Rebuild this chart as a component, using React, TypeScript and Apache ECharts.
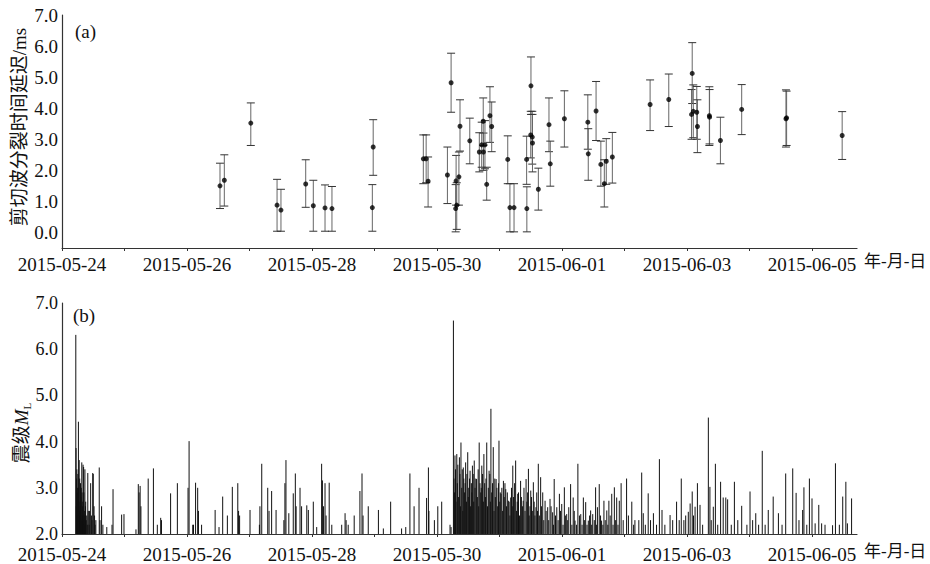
import React, { useEffect, useRef } from "react";
import * as echarts from "echarts";

// ---- Panel (a): shear-wave splitting delay (ms) ----
const splitTime: string[] = [
  "05-26 12:40", "05-26 14:20", "05-27 00:30", "05-27 10:35", "05-27 12:05", "05-27 21:35",
  "05-28 00:30", "05-28 05:00", "05-28 07:40", "05-28 23:30", "05-28 23:10",
  "05-29 18:45", "05-29 19:50", "05-29 20:35", "05-30 04:00", "05-30 05:25", "05-30 07:20",
  "05-30 07:10", "05-30 07:35", "05-30 08:25", "05-30 08:50", "05-30 12:35", "05-30 16:15",
  "05-30 17:10", "05-30 17:45", "05-30 17:50", "05-30 18:25", "05-30 19:05", "05-30 20:20",
  "05-30 21:00", "05-31 03:10", "05-31 04:00", "05-31 05:35",
  "05-31 10:25", "05-31 10:30", "05-31 12:05", "05-31 12:00", "05-31 12:35", "05-31 12:40",
  "05-31 14:55", "05-31 19:00", "05-31 19:30", "06-01 00:55", "06-01 09:55", "06-01 10:05",
  "06-01 13:05", "06-01 14:55", "06-01 16:15", "06-01 17:00", "06-01 19:20",
  "06-02 09:50", "06-02 17:00", "06-03 02:00", "06-03 01:45", "06-03 02:25", "06-03 03:45",
  "06-03 04:00", "06-03 08:35", "06-03 08:40", "06-03 12:50", "06-03 21:00", "06-04 14:00",
  "06-04 14:15", "06-05 11:35",
];
const splitDelay: number[] = [
  1.50, 1.68, 3.52, 0.88, 0.72, 1.56,
  0.86, 0.79, 0.77, 2.75, 0.80,
  2.37, 2.37, 1.65, 1.85, 4.82, 1.66,
  0.77, 0.88, 1.79, 3.42, 2.95, 2.59,
  2.82, 3.58, 2.59, 2.82, 1.55, 3.76,
  3.41, 2.35, 0.80, 0.80,
  2.35, 0.77, 4.72, 3.14, 3.07, 2.88,
  1.39, 3.47, 2.21, 3.66, 3.55, 2.53,
  3.91, 2.19, 1.57, 2.29, 2.43,
  4.12, 4.28, 5.12, 3.80, 3.90, 3.87,
  3.41, 3.76, 3.71, 2.96, 3.96, 3.66,
  3.69, 3.12,
];
const splitLow: number[] = [
  0.77, 0.85, 2.80, 0.04, 0.04, 0.81,
  0.04, 0.04, 0.04, 1.84, 0.04,
  1.57, 1.60, 0.82, 0.93, 3.87, 0.88,
  0.02, 0.10, 0.88, 2.62, 2.21, 1.95,
  2.10, 2.80, 2.00, 2.05, 1.04, 2.90,
  2.60, 1.57, 0.02, 0.02,
  1.55, 0.02, 3.80, 2.40, 2.20, 1.95,
  0.72, 2.60, 1.49, 2.75, 2.68, 1.68,
  2.96, 1.49, 0.82, 1.55, 1.59,
  3.28, 3.41, 4.15, 3.00, 3.05, 3.00,
  2.57, 2.80, 2.85, 2.21, 3.15, 2.75,
  2.80, 2.35,
];
const splitHigh: number[] = [
  2.23, 2.50, 4.17, 1.71, 1.39, 2.34,
  1.68, 1.53, 1.48, 3.63, 1.54,
  3.14, 3.14, 2.43, 2.75, 5.77, 2.48,
  1.54, 1.60, 2.59, 4.27, 3.68, 3.21,
  3.55, 4.33, 3.20, 3.60, 2.10, 4.69,
  4.20, 3.11, 1.57, 1.57,
  3.10, 1.47, 5.65, 3.90, 3.90, 3.80,
  2.07, 4.33, 2.94, 4.56, 4.43, 3.34,
  4.86, 2.94, 2.34, 3.02, 3.22,
  4.91, 5.10, 6.11, 4.60, 4.75, 4.70,
  4.27, 4.69, 4.60, 3.71, 4.76, 4.59,
  4.55, 3.89,
];

// ---- Panel (b): earthquake magnitudes [hours since 2015-05-24 00:00, ML] ----
const quakesFirstDay: [number, number][] = [
  [5.3, 6.31], [5.4, 3.86], [5.5, 2.6], [5.6, 3.2], [5.7, 3.4], [5.8, 2.9], [5.9, 2.4], [6.0, 3.0],
  [6.1, 3.3], [6.2, 2.5], [6.3, 4.43], [6.4, 3.0], [6.5, 2.7], [6.6, 3.6], [6.7, 2.4], [6.8, 3.2],
  [6.9, 2.5], [7.0, 2.6], [7.1, 3.1], [7.2, 2.4], [7.3, 2.8], [7.4, 3.0], [7.5, 2.3], [7.6, 3.55],
  [7.7, 2.9], [7.8, 2.6], [7.9, 2.4], [8.0, 2.7], [8.1, 3.5], [8.2, 2.3], [8.3, 3.45], [8.4, 2.9],
  [8.5, 2.2], [8.6, 2.4], [8.7, 2.5], [8.8, 3.4], [8.9, 2.3], [9.0, 2.6], [9.1, 2.7], [9.3, 2.3],
  [9.5, 2.4], [9.7, 2.2], [9.9, 3.32], [10.1, 2.5], [10.4, 2.2], [10.6, 2.5], [11.0, 3.1], [11.3, 2.4],
  [11.5, 2.3], [11.8, 3.32], [12.0, 3.3], [12.3, 2.6], [12.5, 2.4], [12.7, 2.2], [13.0, 2.3],
  [14.3, 3.44], [14.6, 2.3], [15.2, 2.6], [15.7, 2.2], [17.2, 2.15], [19.2, 2.2], [19.6, 2.97],
  [22.9, 2.42], [23.8, 2.43],
];
const quakesBeforeMain: [number, number][] = [
  [28.4, 2.1], [29.3, 3.08], [29.6, 2.9], [30.0, 3.04], [30.3, 2.6], [33.1, 3.2], [35.1, 3.42],
  [36.6, 2.2], [37.9, 2.35], [38.2, 2.3], [41.7, 2.88], [44.3, 3.1], [48.4, 3.0], [48.8, 4.01],
  [50.2, 2.2], [50.5, 2.2], [51.3, 3.11], [52.1, 3.0], [52.4, 2.5], [53.6, 2.2], [58.8, 2.52],
  [60.3, 2.15], [61.7, 2.81], [63.5, 2.4], [65.4, 3.02], [67.5, 3.1], [67.8, 2.5], [68.2, 2.4],
  [72.2, 2.52], [75.8, 2.2], [76.0, 2.6], [76.7, 3.52], [79.0, 3.0], [79.5, 2.5], [80.5, 2.93],
  [82.2, 2.52], [85.2, 2.3], [85.6, 3.1], [86.0, 3.6], [87.1, 2.45], [88.8, 2.88], [89.6, 3.31],
  [89.9, 2.6], [91.4, 3.0], [92.0, 2.6], [94.0, 2.62], [94.6, 2.52], [96.5, 2.7], [97.8, 2.15],
  [99.7, 3.52], [100.0, 3.16], [100.4, 2.6], [101.0, 3.1], [101.4, 2.4], [102.6, 3.11], [103.6, 2.2],
  [107.4, 2.2], [108.7, 2.45], [109.1, 2.3], [109.9, 2.2], [112.2, 2.4], [114.4, 2.93], [115.2, 3.31],
  [115.6, 2.4], [117.6, 2.6], [121.5, 2.52], [123.4, 2.12], [126.2, 2.7], [130.4, 2.12], [132.0, 2.15],
  [133.6, 3.31], [135.2, 2.6], [137.1, 3.0], [140.0, 2.78], [140.7, 3.44], [140.9, 2.5], [143.0, 2.3],
  [144.3, 2.6], [145.8, 2.7], [149.0, 2.2], [149.4, 2.15],
];
const quakesMainShock: [number, number][] = [[150.3, 6.62]];
const quakesAftershockPeaks: [number, number][] = [
  [150.9, 3.70], [151.6, 3.73], [152.6, 3.66], [153.2, 3.98], [154.1, 3.44], [155.0, 3.55],
  [155.8, 3.77], [156.7, 3.37], [157.6, 3.48], [158.3, 3.59], [159.2, 3.19], [160.2, 3.98],
  [161.2, 3.48], [162.0, 3.73], [163.1, 3.98], [164.0, 3.37], [164.7, 4.71], [165.6, 3.88],
  [166.7, 3.19], [167.8, 4.02], [168.6, 2.87], [169.5, 3.15], [170.4, 2.97], [171.4, 2.72],
  [172.3, 2.79], [173.1, 3.48], [174.2, 3.59], [175.0, 2.87], [176.1, 3.15], [177.1, 2.72],
  [178.2, 3.19], [179.1, 3.41], [180.0, 2.94], [181.0, 3.12], [182.0, 2.58], [182.9, 3.52],
  [183.8, 3.23], [184.6, 2.90], [185.5, 2.72], [186.5, 2.58], [187.4, 2.76], [188.4, 2.47],
  [189.0, 3.19], [190.0, 2.58], [191.0, 2.87], [191.9, 2.65], [192.9, 3.01], [193.8, 2.43],
  [194.6, 2.58], [195.3, 3.08], [196.3, 2.79], [197.0, 2.29], [198.1, 3.52], [199.2, 2.43],
  [200.2, 2.79], [201.1, 2.69], [202.1, 2.29], [203.0, 2.51], [203.8, 2.43], [204.9, 3.01],
  [205.6, 2.58], [206.3, 3.08], [207.2, 2.29], [208.1, 2.72], [209.2, 2.51], [210.0, 2.72],
  [211.1, 2.87], [212.1, 3.01], [213.0, 2.79], [214.0, 2.72],
];
const quakesAftershockSwarm: [number, number][] = [
  [150.5, 3.2], [150.7, 2.9], [151.1, 3.4], [151.3, 2.7], [151.8, 3.1], [152.0, 3.5], [152.3, 2.8],
  [152.8, 3.3], [153.0, 2.6], [153.5, 3.0], [153.7, 3.4], [153.9, 2.5], [154.3, 3.2], [154.6, 2.9],
  [154.8, 3.1], [155.3, 2.7], [155.5, 3.3], [156.0, 2.8], [156.2, 3.0], [156.5, 3.2], [156.9, 2.6],
  [157.2, 3.1], [157.4, 2.9], [157.9, 3.3], [158.1, 2.7], [158.6, 3.0], [158.9, 3.2], [159.5, 2.8],
  [159.8, 3.4], [160.0, 2.6], [160.5, 3.1], [160.8, 2.9], [161.0, 3.0], [161.5, 3.3], [161.8, 2.7],
  [162.3, 3.1], [162.6, 2.8], [162.8, 3.2], [163.4, 2.6], [163.7, 3.0], [164.3, 3.3], [164.5, 2.7],
  [165.0, 2.9], [165.3, 3.1], [165.9, 2.5], [166.2, 3.2], [166.4, 2.8], [167.0, 3.0], [167.3, 2.6],
  [167.6, 3.1], [168.1, 2.7], [168.3, 2.9], [168.9, 3.0], [169.2, 2.5], [169.8, 2.8], [170.1, 3.1],
  [170.7, 2.6], [171.0, 2.9], [171.7, 2.7], [172.0, 2.4], [172.6, 3.0], [172.9, 2.6], [173.4, 2.8],
  [173.8, 3.1], [174.5, 2.5], [174.8, 2.7], [175.3, 2.9], [175.7, 2.4], [176.4, 2.8], [176.8, 2.6],
  [177.4, 3.0], [177.8, 2.5], [178.5, 2.7], [178.8, 2.9], [179.4, 2.4], [179.7, 2.6], [180.3, 2.8],
  [180.6, 2.5], [181.3, 2.7], [181.6, 2.4], [182.3, 2.9], [182.6, 2.5],
  [183.3, 2.4], [184.1, 2.6], [185.0, 2.3], [185.9, 2.5], [186.9, 2.3], [187.8, 2.6], [188.7, 2.2],
  [189.5, 2.4], [190.5, 2.3], [191.4, 2.5], [192.4, 2.2], [193.3, 2.4], [194.2, 2.3], [195.8, 2.2],
  [196.7, 2.5], [197.6, 2.2], [198.7, 2.4], [199.7, 2.2], [200.7, 2.3], [201.6, 2.2], [202.6, 2.4],
  [203.4, 2.2], [204.4, 2.3], [205.2, 2.2], [206.8, 2.4], [207.7, 2.2], [208.6, 2.3], [209.6, 2.2],
  [210.5, 2.4], [211.6, 2.2], [212.6, 2.3], [213.5, 2.2],
];
const quakesLate: [number, number][] = [
  [214.7, 3.10], [215.5, 2.3], [216.8, 3.20], [217.5, 2.4], [218.8, 2.70], [219.5, 2.2], [220.0, 2.30],
  [221.5, 2.3], [222.6, 3.33], [223.2, 2.45], [224.0, 2.2], [225.1, 2.88], [226.0, 2.3], [227.1, 2.45],
  [228.3, 2.2], [229.4, 3.62], [230.4, 2.52], [231.5, 2.2], [233.5, 2.41], [234.5, 2.3], [236.0, 2.70],
  [237.0, 2.30], [237.8, 3.20], [238.8, 2.3], [239.5, 2.4], [240.5, 2.48], [241.2, 2.66], [242.0, 2.92],
  [242.5, 2.4], [243.1, 2.59], [244.0, 3.10], [245.0, 2.63], [246.0, 2.2], [248.2, 4.52], [248.8, 3.02],
  [249.3, 2.3], [250.1, 2.59], [250.9, 3.52], [251.8, 2.2], [252.9, 3.13], [253.9, 2.79], [254.9, 2.79],
  [255.6, 2.75], [257.0, 2.2], [258.2, 3.13], [259.5, 2.3], [261.0, 2.61], [263.0, 2.2], [264.2, 2.92],
  [265.2, 2.30], [266.4, 2.45], [267.5, 2.2], [268.9, 3.80], [270.0, 2.2], [271.2, 2.52], [273.1, 2.81],
  [275.1, 2.45], [276.5, 2.2], [277.9, 3.31], [280.6, 3.42], [281.9, 2.89], [283.0, 2.3], [284.4, 2.52],
  [284.9, 3.01], [286.0, 2.2], [287.0, 3.20], [288.0, 2.77], [289.2, 2.23], [290.6, 2.63], [291.7, 2.23],
  [293.0, 2.2], [295.9, 2.19], [297.0, 3.53], [298.5, 2.2], [299.8, 2.81], [301.0, 3.13], [301.6, 2.23],
  [303.2, 2.77],
];

const dayLabels = [0, 2, 4, 6, 8, 10, 12];
const BASE = Date.UTC(2015, 4, 24);
const X_MAX = 12.72;
const FONT = "'Liberation Serif', 'Noto Sans CJK SC', serif";

function dayOf(s: string): number {
  const [md, hm] = s.split(" ");
  const [mo, d] = md.split("-").map(Number);
  const [h, mi] = hm.split(":").map(Number);
  return (Date.UTC(2015, mo - 1, d, h, mi) - BASE) / 86400000;
}
function pad(n: number) {
  return n < 10 ? "0" + n : "" + n;
}
function dateLabel(v: number): string {
  if (Math.abs(v - Math.round(v)) > 1e-6) return "";
  const r = Math.round(v);
  if (dayLabels.indexOf(r) < 0) return "";
  const dt = new Date(BASE + r * 86400000);
  return `${dt.getUTCFullYear()}-${pad(dt.getUTCMonth() + 1)}-${pad(dt.getUTCDate())}`;
}

export default function App() {
  const ref = useRef<HTMLDivElement>(null);
  useEffect(() => {
    if (!ref.current) return;
    const chart = echarts.init(ref.current, undefined, { renderer: "svg" });

    const errData = splitTime.map((t, i) => [dayOf(t), splitLow[i], splitHigh[i]]);
    const dotData = splitTime.map((t, i) => [dayOf(t), splitDelay[i]]);
    const quakeData = [
      ...quakesFirstDay,
      ...quakesBeforeMain,
      ...quakesMainShock,
      ...quakesAftershockSwarm,
      ...quakesAftershockPeaks,
      ...quakesLate,
    ].map(([h, m]) => [h / 24, m]);

    const axisColor = "#333";
    const xAxisCommon = {
      type: "value",
      min: 0,
      max: X_MAX,
      interval: 1,
      axisLine: { show: true, onZero: false, lineStyle: { color: axisColor, width: 1.2 } },
      axisTick: { show: true, length: 3, inside: false, lineStyle: { color: axisColor } },
      splitLine: { show: false },
      axisLabel: {
        formatter: dateLabel,
        color: "#111",
        fontFamily: FONT,
        fontSize: 19,
        margin: 7,
        showMaxLabel: false,
        hideOverlap: false,
      },
    };

    chart.setOption({
      animation: false,
      backgroundColor: "#fff",
      grid: [
        { left: 62, top: 15, width: 795, height: 233 },
        { left: 62, top: 303, width: 795, height: 231 },
      ],
      xAxis: [
        { ...xAxisCommon, gridIndex: 0 },
        { ...xAxisCommon, gridIndex: 1, axisLabel: { ...xAxisCommon.axisLabel, margin: 11 } },
      ],
      yAxis: [
        {
          type: "value",
          gridIndex: 0,
          min: -0.5,
          max: 7,
          interval: 0.5,
          axisLine: { show: true, lineStyle: { color: axisColor, width: 1.2 } },
          axisTick: { show: false },
          splitLine: { show: false },
          axisLabel: {
            formatter: (v: number) => (Math.abs(v - Math.round(v)) < 1e-6 ? v.toFixed(1) : ""),
            color: "#111",
            fontFamily: FONT,
            fontSize: 19,
            margin: 4,
          },
        },
        {
          type: "value",
          gridIndex: 1,
          min: 2,
          max: 7,
          interval: 1,
          axisLine: { show: true, lineStyle: { color: axisColor, width: 1.2 } },
          axisTick: { show: false },
          splitLine: { show: false },
          axisLabel: {
            formatter: (v: number) => v.toFixed(1),
            color: "#111",
            fontFamily: FONT,
            fontSize: 18,
            margin: 4,
            lineHeight: 14,
          },
        },
      ],
      graphic: [
        { type: "text", left: 75, top: 22, style: { text: "(a)", font: `19px ${FONT}`, fill: "#111" } },
        { type: "text", left: 73, top: 306, style: { text: "(b)", font: `19px ${FONT}`, fill: "#111" } },
        { type: "text", left: 864, top: 253, style: { text: "年-月-日", font: `17px ${FONT}`, fill: "#111" } },
        { type: "text", left: 864, top: 543, style: { text: "年-月-日", font: `17px ${FONT}`, fill: "#111" } },
        {
          type: "text",
          x: 19,
          y: 127,
          rotation: Math.PI / 2,
          style: {
            text: "剪切波分裂时间延迟/ms",
            font: `19px ${FONT}`,
            fill: "#111",
            align: "center",
            verticalAlign: "middle",
            textAlign: "center",
            textVerticalAlign: "middle",
          },
        },
        {
          type: "text",
          x: 21,
          y: 433,
          rotation: Math.PI / 2,
          style: {
            text: "震级{m|M}{s|L}",
            font: `19px ${FONT}`,
            fill: "#111",
            align: "center",
            verticalAlign: "middle",
            textAlign: "center",
            textVerticalAlign: "middle",
            rich: {
              m: { fontFamily: FONT, fontSize: 19, fontStyle: "italic", fill: "#111" },
              s: { fontFamily: FONT, fontSize: 11, fill: "#111", verticalAlign: "bottom", padding: [12, 0, 0, 0] },
            },
          },
        },
      ],
      series: [
        {
          type: "custom",
          xAxisIndex: 0,
          yAxisIndex: 0,
          data: errData,
          encode: { x: 0, y: [1, 2] },
          renderItem: (params: any, api: any) => {
            const x = api.value(0);
            const top = api.coord([x, api.value(2)]);
            const bot = api.coord([x, api.value(1)]);
            const cap = 4;
            return {
              type: "group",
              children: [
                { type: "line", shape: { x1: top[0], y1: top[1], x2: bot[0], y2: bot[1] }, style: { stroke: "#666", lineWidth: 1 } },
                { type: "line", shape: { x1: top[0] - cap, y1: top[1], x2: top[0] + cap, y2: top[1] }, style: { stroke: "#333", lineWidth: 1 } },
                { type: "line", shape: { x1: bot[0] - cap, y1: bot[1], x2: bot[0] + cap, y2: bot[1] }, style: { stroke: "#333", lineWidth: 1 } },
              ],
            };
          },
          z: 2,
        },
        {
          type: "scatter",
          xAxisIndex: 0,
          yAxisIndex: 0,
          data: dotData,
          symbol: "circle",
          symbolSize: 5,
          itemStyle: { color: "#000" },
          z: 3,
        },
        {
          type: "custom",
          xAxisIndex: 1,
          yAxisIndex: 1,
          data: quakeData,
          encode: { x: 0, y: 1 },
          renderItem: (params: any, api: any) => {
            const x = api.value(0);
            const p1 = api.coord([x, 2]);
            const p2 = api.coord([x, api.value(1)]);
            return {
              type: "line",
              shape: { x1: p1[0], y1: p1[1], x2: p2[0], y2: p2[1] },
              style: { stroke: "#111", lineWidth: 1 },
            };
          },
          clip: true,
        },
      ],
    });
    return () => chart.dispose();
  }, []);
  return <div ref={ref} style={{ width: 930, height: 564, position: "absolute", left: 0, top: 0 }} />;
}
